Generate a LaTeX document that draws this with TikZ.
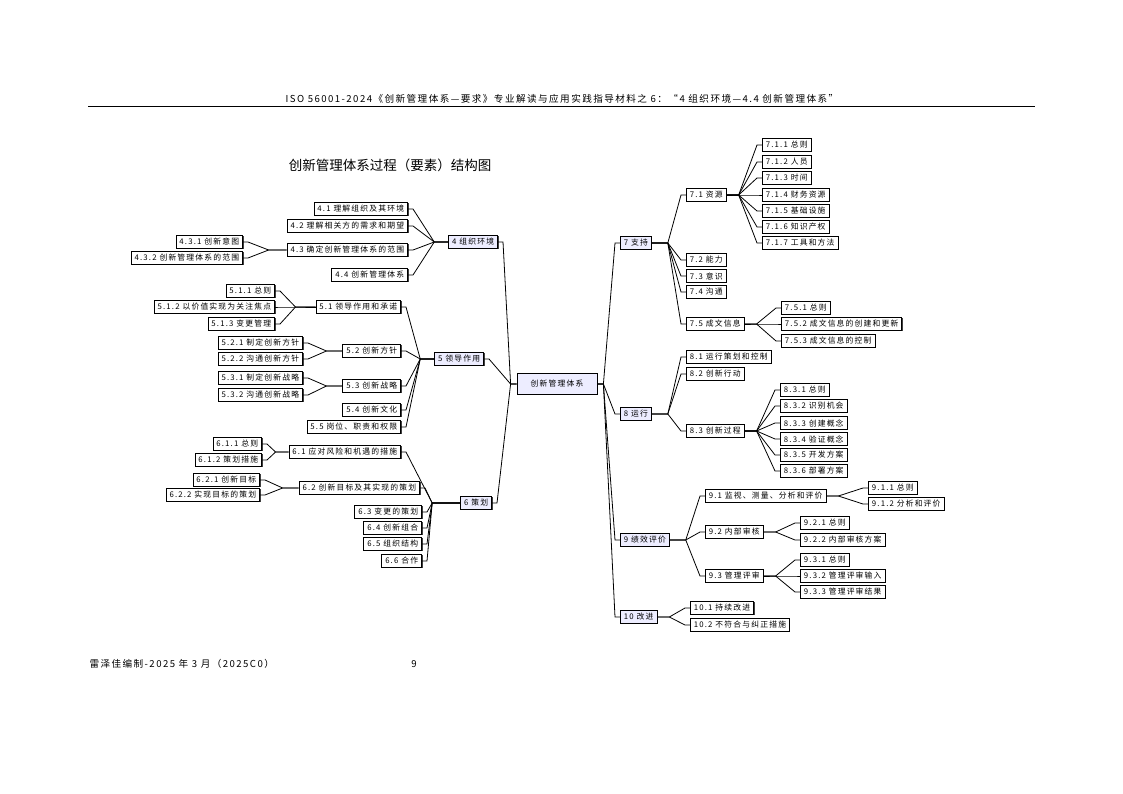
\documentclass[tikz,border=0pt]{standalone}
\usepackage{fontspec}
\newfontfamily\cjk{Noto Sans CJK SC}
\newfontfamily\cjkb[LetterSpace=15]{Noto Sans CJK SC}
\usetikzlibrary{shadows}
\tikzset{
 box/.style={draw, line width=0.8pt, fill=white, inner xsep=3.5pt, inner ysep=0pt, minimum height=13pt,
   font=\cjkb\fontsize{7.8}{9}\selectfont, drop shadow={shadow xshift=0.9pt, shadow yshift=-0.9pt, fill=black!75, opacity=1}},
 topb/.style={box, fill=blue!7},
 ln/.style={line width=0.8pt},
 L/.style={box, anchor=east},
 R/.style={box, anchor=west},
}
\newcommand\rconn[3]{\draw[ln] (#1.east) -- ++(#3,0) -- ([xshift=-5pt]#2.west) -- (#2.west);}
\newcommand\lconn[3]{\draw[ln] (#1.west) -- ++(-#3,0) -- ([xshift=5pt]#2.east) -- (#2.east);}
\begin{document}
\begin{tikzpicture}[x=1pt,y=-1pt]
\useasboundingbox (0,0) rectangle (1123,794);
\node[font=\cjkb\fontsize{9.6}{11}\selectfont] (hdr) at (562,99) {ISO 56001-2024《创新管理体系—要求》专业解读与应用实践指导材料之 6：“4 组织环境—4.4 创新管理体系”};
\draw[line width=0.6pt] (88,106) -- (1035,106);
\node[font=\cjk\fontsize{13.5}{15}\selectfont] (title) at (390,165) {创新管理体系过程（要素）结构图};
\node[font=\cjkb\fontsize{9.6}{11}\selectfont, anchor=west] (foot) at (86,664) {雷泽佳编制-2025 年 3 月（2025C0）};
\node[font=\cjk\fontsize{9.6}{11}\selectfont] (pg) at (414,664) {9};

\node[topb, minimum width=80pt, minimum height=21pt] (c) at (557,384) {创新管理体系};
% left level 1
\node[topb, anchor=east] (n4) at (498,242) {4 组织环境};
\node[topb, anchor=east] (n5) at (484,359) {5 领导作用};
\node[topb, anchor=east] (n6) at (492,503) {6 策划};
% right level 1
\node[topb, anchor=west] (n7) at (620,243) {7 支持};
\node[topb, anchor=west] (n8) at (620,414) {8 运行};
\node[topb, anchor=west] (n9) at (620,540) {9 绩效评价};
\node[topb, anchor=west] (n10) at (620,617) {10 改进};
\foreach \n in {n4,n5,n6} {\lconn{c}{\n}{6}}
\foreach \n in {n7,n8,n9,n10} {\rconn{c}{\n}{6}}

% 4
\node[L] (a41) at (408,209) {4.1 理解组织及其环境};
\node[L] (a42) at (408,226) {4.2 理解相关方的需求和期望};
\node[L] (a43) at (408,250) {4.3 确定创新管理体系的范围};
\node[L] (a44) at (408,275) {4.4 创新管理体系};
\node[L] (a431) at (243,242) {4.3.1 创新意图};
\node[L] (a432) at (243,258) {4.3.2 创新管理体系的范围};
\foreach \n in {a41,a42,a43,a44} {\lconn{n4}{\n}{14}}
\foreach \n in {a431,a432} {\lconn{a43}{\n}{18}}
% 5
\node[L] (b51) at (401,307) {5.1 领导作用和承诺};
\node[L] (b511) at (275,291) {5.1.1 总则};
\node[L] (b512) at (275,307) {5.1.2 以价值实现为关注焦点};
\node[L] (b513) at (275,324) {5.1.3 变更管理};
\node[L] (b52) at (401,351) {5.2 创新方针};
\node[L] (b521) at (303,343) {5.2.1 制定创新方针};
\node[L] (b522) at (303,359) {5.2.2 沟通创新方针};
\node[L] (b53) at (401,386) {5.3 创新战略};
\node[L] (b531) at (303,378) {5.3.1 制定创新战略};
\node[L] (b532) at (303,395) {5.3.2 沟通创新战略};
\node[L] (b54) at (401,410) {5.4 创新文化};
\node[L] (b55) at (401,427) {5.5 岗位、职责和权限};
\foreach \n in {b51,b52,b53,b54,b55} {\lconn{n5}{\n}{14}}
\foreach \n in {b511,b512,b513} {\lconn{b51}{\n}{20}}
\foreach \n in {b521,b522} {\lconn{b52}{\n}{16}}
\foreach \n in {b531,b532} {\lconn{b53}{\n}{16}}
% 6
\node[L] (c61) at (401,452) {6.1 应对风险和机遇的措施};
\node[L] (c611) at (262,444) {6.1.1 总则};
\node[L] (c612) at (262,460) {6.1.2 策划措施};
\node[L] (c62) at (420,488) {6.2 创新目标及其实现的策划};
\node[L] (c621) at (260,480) {6.2.1 创新目标};
\node[L] (c622) at (260,495) {6.2.2 实现目标的策划};
\node[L] (c63) at (422,512) {6.3 变更的策划};
\node[L] (c64) at (422,528) {6.4 创新组合};
\node[L] (c65) at (422,544) {6.5 组织结构};
\node[L] (c66) at (422,561) {6.6 合作};
\foreach \n in {c61,c62,c63,c64,c65,c66} {\lconn{n6}{\n}{28}}
\foreach \n in {c611,c612} {\lconn{c61}{\n}{13}}
\foreach \n in {c621,c622} {\lconn{c62}{\n}{16}}
% 7
\node[R] (d71) at (686,195) {7.1 资源};
\node[R] (d711) at (762,145) {7.1.1 总则};
\node[R] (d712) at (762,162) {7.1.2 人员};
\node[R] (d713) at (762,178) {7.1.3 时间};
\node[R] (d714) at (762,195) {7.1.4 财务资源};
\node[R] (d715) at (762,211) {7.1.5 基础设施};
\node[R] (d716) at (762,227) {7.1.6 知识产权};
\node[R] (d717) at (762,243) {7.1.7 工具和方法};
\node[R] (d72) at (686,260) {7.2 能力};
\node[R] (d73) at (686,276) {7.3 意识};
\node[R] (d74) at (686,292) {7.4 沟通};
\node[R] (d75) at (686,324) {7.5 成文信息};
\node[R] (d751) at (781,308) {7.5.1 总则};
\node[R] (d752) at (781,324) {7.5.2 成文信息的创建和更新};
\node[R] (d753) at (781,341) {7.5.3 成文信息的控制};
\foreach \n in {d71,d72,d73,d74,d75} {\rconn{n7}{\n}{16}}
\foreach \n in {d711,d712,d713,d714,d715,d716,d717} {\rconn{d71}{\n}{12}}
\foreach \n in {d751,d752,d753} {\rconn{d75}{\n}{12}}
% 8
\node[R] (e81) at (686,357) {8.1 运行策划和控制};
\node[R] (e82) at (686,374) {8.2 创新行动};
\node[R] (e83) at (686,431) {8.3 创新过程};
\node[R] (e831) at (780,390) {8.3.1 总则};
\node[R] (e832) at (780,406) {8.3.2 识别机会};
\node[R] (e833) at (780,423) {8.3.3 创建概念};
\node[R] (e834) at (780,439) {8.3.4 验证概念};
\node[R] (e835) at (780,455) {8.3.5 开发方案};
\node[R] (e836) at (780,471) {8.3.6 部署方案};
\foreach \n in {e81,e82,e83} {\rconn{n8}{\n}{16}}
\foreach \n in {e831,e832,e833,e834,e835,e836} {\rconn{e83}{\n}{12}}
% 9
\node[R] (f91) at (705,496) {9.1 监视、测量、分析和评价};
\node[R] (f911) at (868,488) {9.1.1 总则};
\node[R] (f912) at (868,504) {9.1.2 分析和评价};
\node[R] (f92) at (705,532) {9.2 内部审核};
\node[R] (f921) at (800,523) {9.2.1 总则};
\node[R] (f922) at (800,540) {9.2.2 内部审核方案};
\node[R] (f93) at (705,576) {9.3 管理评审};
\node[R] (f931) at (800,560) {9.3.1 总则};
\node[R] (f932) at (800,576) {9.3.2 管理评审输入};
\node[R] (f933) at (800,592) {9.3.3 管理评审结果};
\foreach \n in {f91,f92,f93} {\rconn{n9}{\n}{16}}
\foreach \n in {f911,f912} {\rconn{f91}{\n}{12}}
\foreach \n in {f921,f922} {\rconn{f92}{\n}{12}}
\foreach \n in {f931,f932,f933} {\rconn{f93}{\n}{12}}
% 10
\node[R] (g101) at (690,608) {10.1 持续改进};
\node[R] (g102) at (690,625) {10.2 不符合与纠正措施};
\foreach \n in {g101,g102} {\rconn{n10}{\n}{12}}
\end{tikzpicture}
\end{document}
